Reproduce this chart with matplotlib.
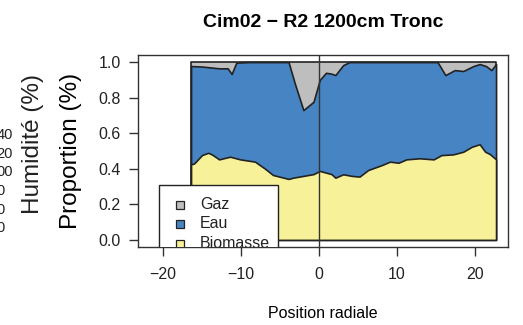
import numpy as np
import matplotlib
matplotlib.use("Agg")
import matplotlib.pyplot as plt
from matplotlib.patches import Rectangle

plt.rcParams['font.family'] = ['Liberation Sans', 'DejaVu Sans']

# water top (bio + water)
x_eau = [-16.4, -15.0, -12.8, -11.7, -11.2, -10.6, -9.0, -3.9, -3.1, -2.0, -0.7,
         0.1, 0.9, 1.6, 2.1, 3.1, 3.9, 15.2, 16.2, 17.4, 18.5, 19.8, 20.6, 21.4,
         22.1, 22.7]
eau_top = [0.978, 0.975, 0.965, 0.965, 0.933, 0.997, 1.0, 1.0, 0.88, 0.73, 0.777,
           0.90, 0.94, 0.935, 0.927, 0.983, 1.0, 1.0, 0.927, 0.955, 0.95, 0.978,
           0.989, 0.978, 0.955, 0.989]

# biomass
x_bio = [-16.4, -16.0, -15.0, -14.2, -13.7, -12.8, -11.4, -10.1, -8.2, -6.9, -5.9,
         -3.9, -3.3, -2.0, -0.7, 0.1, 1.6, 2.1, 3.1, 4.2, 5.2, 6.3, 8.0, 9.1, 10.2,
         11.2, 12.9, 14.7, 15.7, 17.2, 18.5, 19.6, 20.6, 21.3, 21.9, 22.7]
biomasse = [0.425, 0.43, 0.477, 0.49, 0.48, 0.453, 0.468, 0.453, 0.44, 0.40, 0.365,
            0.343, 0.35, 0.36, 0.37, 0.388, 0.37, 0.35, 0.369, 0.36, 0.356, 0.393,
            0.42, 0.44, 0.434, 0.453, 0.459, 0.453, 0.477, 0.481, 0.496, 0.524,
            0.538, 0.496, 0.483, 0.453]

labels = ["Gaz", "Eau", "Biomasse"]
colors = ["#BEBEBE", "#4684C4", "#F7F19A"]

# leftover labels from the other panel (cut by the figure edge)
hum_ticks = ["40", "20", "00", "0", "0", "0"]

W, H = 523, 325
fig = plt.figure(figsize=(W / 100, H / 100), dpi=100)
ax = fig.add_axes([138 / W, 1 - 247 / H, 370 / W, 192 / H])

edge = "#222222"
lw = 1.2
ax.fill_between([x_eau[0], x_eau[-1]], 0, 1, facecolor=colors[0], edgecolor=edge, lw=lw, zorder=1)
ax.fill_between(x_eau, 0, eau_top, facecolor=colors[1], edgecolor=edge, lw=lw, zorder=2)
ax.fill_between(x_bio, 0, biomasse, facecolor=colors[2], edgecolor=edge, lw=lw, zorder=3)
ax.axvline(0, color="#333333", lw=1.0, zorder=4)

ax.set_xlim(-23.2, 24.23)
ax.set_ylim(-0.04, 1.04)
ax.set_xticks([-20, -10, 0, 10, 20])
ax.set_xticklabels(["\u221220", "\u221210", "0", "10", "20"])
ax.set_yticks([0, 0.2, 0.4, 0.6, 0.8, 1.0])
ax.set_yticklabels(["0.0", "0.2", "0.4", "0.6", "0.8", "1.0"])
ax.tick_params(axis="both", labelsize=11.5, length=6.5, width=1.0, color="#333333",
               labelcolor="#222222")
ax.tick_params(axis="x", pad=8)
ax.tick_params(axis="y", pad=6)
for s in ax.spines.values():
    s.set_linewidth(1.0)
    s.set_color("#333333")

ax.set_title("Cim02 \u2212 R2 1200cm Tronc", fontsize=14, fontweight="bold", pad=20)
ax.set_xlabel("Position radiale", fontsize=11.5, labelpad=17)
ax.set_ylabel("Proportion (%)", fontsize=17.5, labelpad=12)

# legend box, clipped by the plot region like in R
lx0 = (159 - 138) / 370
lx1 = (278 - 138) / 370
ltop = (247 - 185) / 192
lbot = (247 - 265) / 192
box = Rectangle((lx0, lbot), lx1 - lx0, ltop - lbot, transform=ax.transAxes,
                facecolor="white", edgecolor=edge, lw=1.0, zorder=6)
ax.add_patch(box)
rows = [204.5, 224, 244]
for lab, col, ry in zip(labels, colors, rows):
    yy = (247 - ry) / 192
    sq = Rectangle(((176 - 138) / 370, yy - 4 / 192), 8 / 370, 8 / 192,
                   transform=ax.transAxes, facecolor=col, edgecolor=edge, lw=0.9, zorder=7)
    ax.add_patch(sq)
    t = ax.text((200 - 138) / 370, yy, lab, transform=ax.transAxes, fontsize=11.5,
                va="center", ha="left", color="#222222", zorder=7, clip_on=True)
    t.set_clip_box(ax.bbox)

fig.text(33 / W, 1 - 144.5 / H, "Humidit\u00e9 (%)", rotation=90, fontsize=17.5,
         ha="center", va="center", color="#222222")
hy = [135, 153.5, 172, 191, 209.5, 228]
for t, yv in zip(hum_ticks, hy):
    xr = 12.7 if len(t) == 2 else 4.5
    fig.text(xr / W, 1 - yv / H, t, fontsize=10.5, ha="right", va="center", color="#222222")

fig.savefig("out.png", dpi=100)
